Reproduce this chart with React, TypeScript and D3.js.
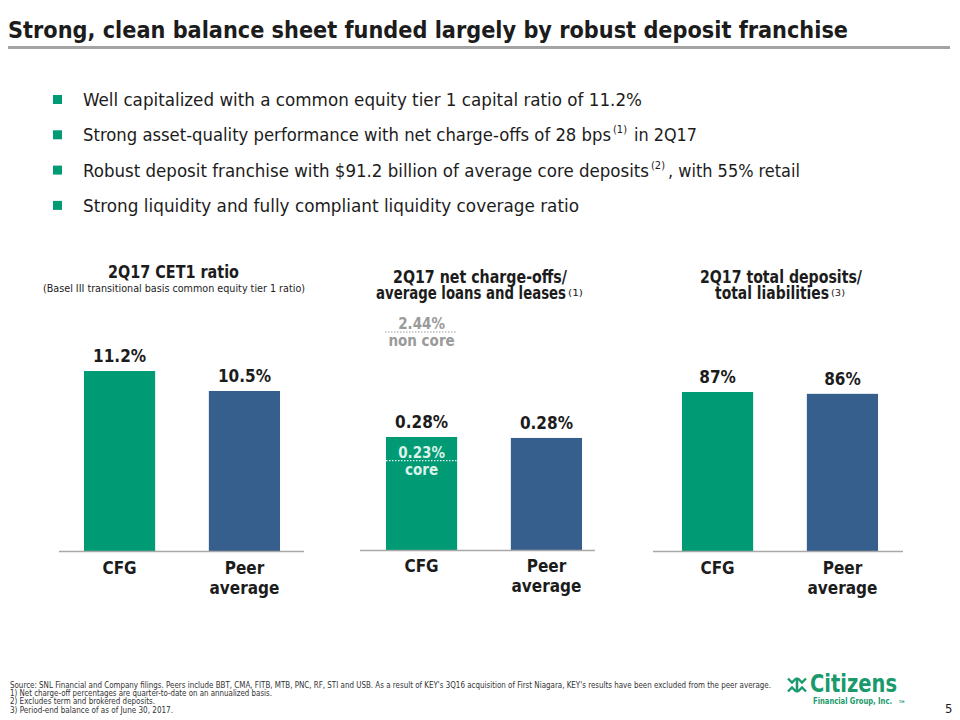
import React from "react";
import * as d3 from "d3";

const W = 960;
const H = 720;
const FONT = "'DejaVu Sans Condensed', 'DejaVu Sans', sans-serif";
const GREEN = "#009a74";
const BLUE = "#365f8d";
const DARK = "#1c1c1c";

const titleText = "Strong, clean balance sheet funded largely by robust deposit franchise";
const bulletMain = [
  "Well capitalized with a common equity tier 1 capital ratio of 11.2%",
  "Strong asset-quality performance with net charge-offs of 28 bps",
  "Robust deposit franchise with $91.2 billion of average core deposits",
  "Strong liquidity and fully compliant liquidity coverage ratio",
];
const bulletSup = ["", "(1)", "(2)", ""];
const bulletTail = ["", "in 2Q17", ", with 55% retail", ""];
// measured pixel extents: [mainWidth, supX, tailX, tailWidth]
const bulletGeom = [
  [559, 0, 0, 0],
  [528, 613, 634, 63],
  [566, 651, 668, 132],
  [496, 0, 0, 0],
];

const categories = ["CFG", "Peer average"];
const cet1Values = [11.2, 10.5];
const cet1Labels = ["11.2%", "10.5%"];
const ncoValues = [0.28, 0.278];
const ncoLabels = ["0.28%", "0.28%"];
const ncoCore = 0.23;
const ncoCoreLabel = "0.23%";
const ncoNonCoreLabel = "2.44%";
const depositValues = [87, 86];
const depositLabels = ["87%", "86%"];

const footnotes = [
  "Source: SNL Financial and Company filings. Peers include BBT, CMA, FITB, MTB, PNC, RF, STI and USB. As a result of KEY's 3Q16 acquisition of First Niagara, KEY's results have been excluded from the peer average.",
  "1)  Net charge-off percentages are quarter-to-date on an annualized basis.",
  "2)  Excludes term and brokered deposits.",
  "3)  Period-end balance of as of June 30, 2017.",
];
const footWidths = [761, 262, 145, 163];

type Panel = {
  values: number[];
  labels: string[];
  domain: [number, number];
  baseY: number;
  topY: number;
  bandStart: number;
  lineX: [number, number];
};

const panels: Panel[] = [
  { values: cet1Values, labels: cet1Labels, domain: [4.9, 11.2], baseY: 551, topY: 371, bandStart: 59, lineX: [59, 304] },
  { values: ncoValues, labels: ncoLabels, domain: [0.04, 0.28], baseY: 550, topY: 437, bandStart: 361, lineX: [360, 595] },
  { values: depositValues, labels: depositLabels, domain: [0, 87], baseY: 551, topY: 392, bandStart: 657, lineX: [653, 903] },
];

function BarPanel({ p, idx }: { p: Panel; idx: number }) {
  const x = d3
    .scaleBand<string>()
    .domain(categories)
    .range([p.bandStart, p.bandStart + 246])
    .paddingInner(0.43)
    .paddingOuter(0.2);
  const y = d3.scaleLinear().domain(p.domain).range([p.baseY, p.topY]);
  const bw = x.bandwidth();
  const colors = [GREEN, BLUE];
  const catDy = idx === 1 ? -1.5 : 0;
  const x0c = x("CFG")!;
  const x0p = x("Peer average")!;
  return (
    <g>
      {categories.map((c, i) => {
        const x0 = x(c)!;
        const top = y(p.values[i]);
        return (
          <g key={c}>
            <rect x={x0} y={top} width={bw} height={p.baseY - top} fill={colors[i]} />
            <text x={x0 + bw / 2} y={top - 9} textAnchor="middle" fontSize={17} fontWeight="bold" fill={DARK}>
              {p.labels[i]}
            </text>
          </g>
        );
      })}
      <line x1={p.lineX[0]} x2={p.lineX[1]} y1={p.baseY + 0.5} y2={p.baseY + 0.5} stroke="#a8a8a8" strokeWidth={1.5} />
      <text x={x0c + bw / 2} y={p.baseY + 23 + catDy} textAnchor="middle" fontSize={17} fontWeight="bold" fill={DARK}>
        CFG
      </text>
      <text x={x0p + bw / 2} y={p.baseY + 23 + catDy} textAnchor="middle" fontSize={17} fontWeight="bold" fill={DARK}>
        Peer
      </text>
      <text x={x0p + bw / 2} y={p.baseY + 43 + catDy} textAnchor="middle" fontSize={17} fontWeight="bold" fill={DARK}>
        average
      </text>
      {idx === 1 && (
        <g>
          <line x1={x0c} x2={x0c + bw} y1={y(ncoCore)} y2={y(ncoCore)} stroke="#e8f6f0" strokeWidth={1.2} strokeDasharray="1.5 1.5" />
          <text x={x0c + bw / 2} y={y(ncoCore) - 3} textAnchor="middle" fontSize={15} fontWeight="bold" fill="#dcf2e9">
            {ncoCoreLabel}
          </text>
          <text x={x0c + bw / 2} y={y(ncoCore) + 14} textAnchor="middle" fontSize={15} fontWeight="bold" fill="#dcf2e9">
            core
          </text>
          <line x1={x0c - 1} x2={x0c + bw} y1={332} y2={332} stroke="#9a9a9a" strokeWidth={1.2} strokeDasharray="1.5 1.5" />
          <text x={x0c + bw / 2} y={329} textAnchor="middle" fontSize={15} fontWeight="bold" fill="#9a9a9a">
            {ncoNonCoreLabel}
          </text>
          <text x={x0c + bw / 2} y={346} textAnchor="middle" fontSize={15} fontWeight="bold" fill="#9a9a9a">
            non core
          </text>
        </g>
      )}
    </g>
  );
}

function Logo() {
  const g = "#1a9a6c";
  const cx = 797;
  const cy = 685;
  const chev = (dx: number, dy: number, rot: number, k: number) => (
    <path
      key={k}
      d="M -4 -2 L 0 2 L 4 -2"
      transform={`translate(${cx + dx},${cy + dy}) rotate(${rot})`}
      fill="none"
      stroke={g}
      strokeWidth={2.4}
    />
  );
  return (
    <g>
      {chev(-5, -4.5, 0, 1)}
      {chev(5, -4.5, 0, 2)}
      {chev(-5, 4.5, 180, 3)}
      {chev(5, 4.5, 180, 4)}
      <rect x={cx - 1.3} y={cy - 7.5} width={2.6} height={15} fill={g} />
      <text x={810} y={692} fontSize={24} fontWeight="bold" fill={g} textLength={87} lengthAdjust="spacingAndGlyphs">
        Citizens
      </text>
      <text x={813} y={704} fontSize={9} fontWeight="bold" fill={g} textLength={79} lengthAdjust="spacingAndGlyphs">
        Financial Group, Inc.
      </text>
      <text x={899} y={702.5} fontSize={3.5} fontWeight="bold" fill={g}>
        TM
      </text>
    </g>
  );
}

export default function App() {
  return (
    <svg width={W} height={H} viewBox={`0 0 ${W} ${H}`} style={{ position: "absolute", left: 0, top: 0, background: "#fff" }} fontFamily={FONT}>
      <rect width={W} height={H} fill="#fff" />
      <text x={8} y={38} fontSize={23} fontWeight="bold" fill={DARK} textLength={840} lengthAdjust="spacingAndGlyphs">
        {titleText}
      </text>
      <rect x={8} y={46} width={942} height={3} fill="#a3a3a3" />

      {bulletMain.map((b, i) => {
        const cy = 100 + i * 35.3;
        const gm = bulletGeom[i];
        return (
          <g key={i}>
            <rect x={53} y={cy - 5} width={9} height={9} fill={GREEN} />
            <text x={83} y={cy + 6} fontSize={18} fill={DARK} textLength={gm[0]} lengthAdjust="spacingAndGlyphs">
              {b}
            </text>
            {bulletSup[i] && (
              <text x={gm[1]} y={cy - 2} fontSize={10} fill={DARK} textLength={14} lengthAdjust="spacingAndGlyphs">
                {bulletSup[i]}
              </text>
            )}
            {bulletTail[i] && (
              <text x={gm[2]} y={cy + 6} fontSize={18} fill={DARK} textLength={gm[3]} lengthAdjust="spacingAndGlyphs">
                {bulletTail[i]}
              </text>
            )}
          </g>
        );
      })}

      {/* panel titles */}
      <text x={173.5} y={278} textAnchor="middle" fontSize={17} fontWeight="bold" fill={DARK} textLength={131} lengthAdjust="spacingAndGlyphs">
        2Q17 CET1 ratio
      </text>
      <text x={174} y={292} textAnchor="middle" fontSize={11} fill={DARK} textLength={262} lengthAdjust="spacingAndGlyphs">
        (Basel III transitional basis common equity tier 1 ratio)
      </text>

      <text x={480} y={283} textAnchor="middle" fontSize={17} fontWeight="bold" fill={DARK} textLength={174} lengthAdjust="spacingAndGlyphs">
        2Q17 net charge-offs/
      </text>
      <text x={376} y={299} fontSize={17} fontWeight="bold" fill={DARK} textLength={190} lengthAdjust="spacingAndGlyphs">
        average loans and leases
      </text>
      <text x={568} y={295.5} fontSize={9} fill={DARK} textLength={15} lengthAdjust="spacingAndGlyphs">
        (1)
      </text>

      <text x={781} y={283} textAnchor="middle" fontSize={17} fontWeight="bold" fill={DARK} textLength={162} lengthAdjust="spacingAndGlyphs">
        2Q17 total deposits/
      </text>
      <text x={715} y={299} fontSize={17} fontWeight="bold" fill={DARK} textLength={114} lengthAdjust="spacingAndGlyphs">
        total liabilities
      </text>
      <text x={831} y={295.5} fontSize={9} fill={DARK} textLength={14} lengthAdjust="spacingAndGlyphs">
        (3)
      </text>

      {panels.map((p, i) => (
        <BarPanel key={i} p={p} idx={i} />
      ))}

      {footnotes.map((f, i) => (
        <text key={i} x={10} y={688 + i * 8.2} fontSize={8.5} fill="#333" textLength={footWidths[i]} lengthAdjust="spacingAndGlyphs">
          {f}
        </text>
      ))}

      <Logo />
      <text x={945} y={713} fontSize={13} fill={DARK}>
        5
      </text>
    </svg>
  );
}
